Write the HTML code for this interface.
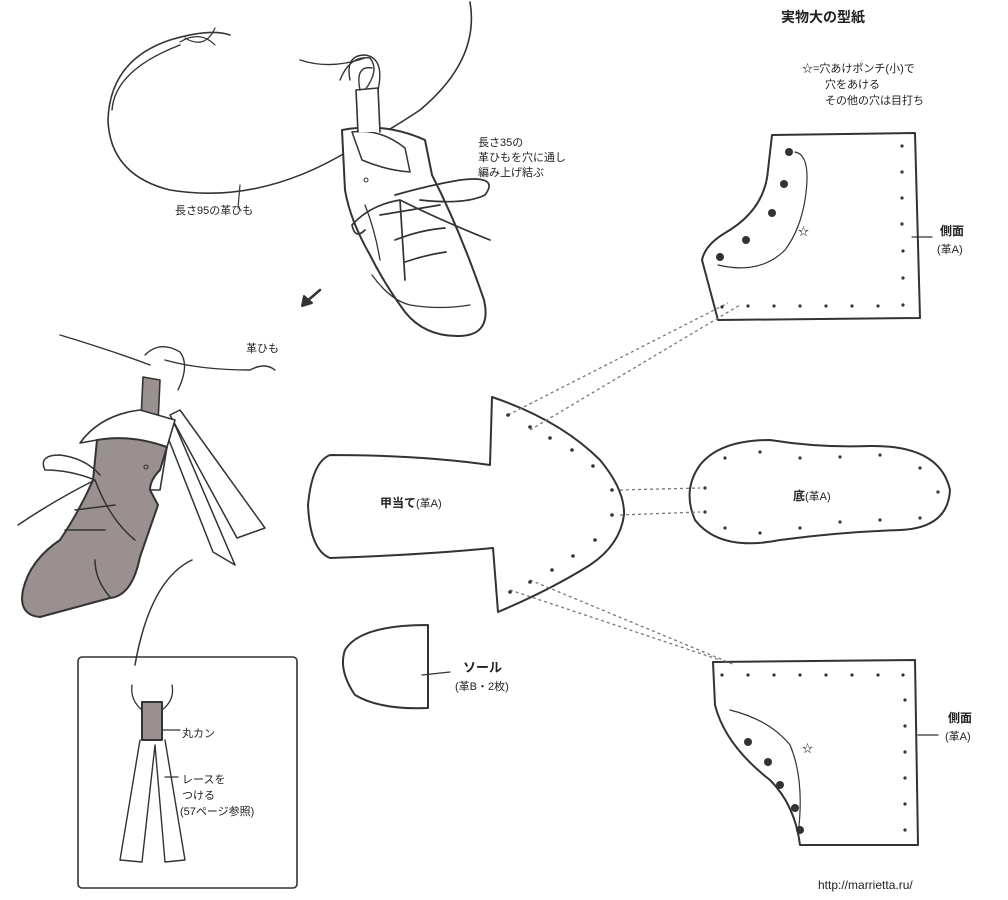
<!DOCTYPE html>
<html><head><meta charset="utf-8"><style>
html,body{margin:0;padding:0;background:#fff}
svg{display:block}
text{font-family:"Liberation Sans","Noto Sans CJK JP",sans-serif;fill:#222}
</style></head><body>
<svg width="1008" height="900" viewBox="0 0 1008 900" xmlns="http://www.w3.org/2000/svg">
<g fill="none" stroke="#333" stroke-width="2" stroke-linecap="round" stroke-linejoin="round">
<!-- big loop -->
<path d="M470,2 Q480,60 420,110 Q390,130 370,140" stroke-width="1.6"/>
<path d="M350,150 Q260,205 170,190 Q110,175 108,120 Q110,60 170,40 Q210,28 230,35" stroke-width="1.6"/>
<path d="M112,110 Q115,70 180,45" stroke-width="1.4"/>
<path d="M240,185 L238,208" stroke-width="1.2"/>
<path d="M180,42 Q200,30 215,45 M185,38 Q205,50 215,28" stroke-width="1.2"/>
<path d="M300,60 Q330,70 365,58 M340,80 Q350,55 370,58 Q380,70 365,90" stroke-width="1.4"/>
<!-- top boot -->
<path d="M342,130 Q385,122 425,140 L432,175 Q460,230 484,300 Q492,335 460,336 Q425,337 405,312 Q385,285 370,255 Q350,220 345,190 Z" fill="#fff"/>
<path d="M352,132 Q380,128 405,148 L410,172 Q385,170 362,160 Z" fill="#fff" stroke-width="1.5"/>
<path d="M358,132 L356,90 L378,88 L380,132" fill="#fff" stroke-width="1.6"/>
<path d="M350,80 Q345,55 365,55 Q385,58 378,90 M360,90 Q355,65 372,68" stroke-width="1.4"/>
<path d="M365,205 Q375,230 380,260 M372,275 Q390,300 410,305 Q440,310 470,305" stroke-width="1.3"/>
<path d="M395,195 Q430,185 460,180 Q500,175 485,195 Q465,205 420,200 M400,200 Q440,220 490,240 M400,200 Q370,205 352,225 Q355,240 365,230 M380,215 L440,205 M395,240 Q420,230 445,228 M405,262 Q425,255 446,252 M400,200 L405,280" stroke-width="1.7"/>
<circle cx="366" cy="180" r="2" stroke-width="1"/>
<!-- arrow -->
<path d="M320,290 L306,302" stroke-width="2.5"/>
<path d="M302,306 L304,296 L312,303 Z" fill="#333"/>
<!-- bottom boot -->
<path d="M60,335 Q110,350 150,365 M165,360 Q200,370 250,370 Q265,362 275,370" stroke-width="1.4"/>
<path d="M145,355 Q160,340 180,352 Q190,365 178,390" stroke-width="1.4"/>
<path d="M143,377 L160,380 L157,445 L140,440 Z" fill="#9a9090" stroke-width="1.6"/>
<path d="M170,415 L180,410 L265,528 L237,538 Z" fill="#fff" stroke-width="1.5"/>
<path d="M165,430 L175,425 L235,565 L213,552 Z" fill="#fff" stroke-width="1.5"/>
<path d="M80,443 Q100,415 140,410 L175,420 L167,447 L160,490 L150,490 Q130,436 97,440 Z" fill="#fff" stroke-width="1.6"/>
<path d="M97,440 Q130,434 167,447 L160,470 Q150,480 150,490 L158,505 L140,557 Q132,596 110,598 L40,617 Q18,615 23,590 Q30,560 60,540 Q80,510 93,480 Z" fill="#9a9090"/>
<path d="M95,480 Q70,470 45,470 Q38,455 60,455 Q85,458 100,475 M95,480 Q55,500 18,525 M95,480 Q110,520 135,540 M75,510 L115,505 M65,530 L105,530 M95,560 Q95,580 110,597" stroke-width="1.5"/>
<circle cx="146" cy="467" r="2" stroke-width="1"/>
<path d="M192,560 Q150,580 135,665" stroke-width="1.5"/>
<!-- inset box -->
<rect x="78" y="657" width="219" height="231" rx="4" stroke-width="1.6"/>
<rect x="142" y="702" width="20" height="38" fill="#9a9090"/>
<path d="M132,685 Q130,700 142,710 M172,685 Q175,700 162,710" stroke-width="1.3"/>
<path d="M140,740 L120,860 L142,862 L155,745 M155,745 L165,862 L185,860 L165,740" stroke-width="1.4"/>
<path d="M163,730 L180,730 M165,777 L178,777" stroke-width="1.2"/>
<!-- mushroom piece -->
<path d="M492,397 Q560,420 600,460 Q625,490 624,515 Q620,545 590,565 Q550,590 498,612 L493,548 Q420,555 330,558 Q310,550 308,505 Q312,462 330,455 Q420,455 490,465 Z"/>
<!-- small sole -->
<path d="M428,625 L428,708 Q380,710 355,695 Q338,670 345,650 Q360,625 428,625 Z"/>
<path d="M422,675 L450,672" stroke-width="1.2"/>
<!-- insole -->
<path d="M700,465 Q720,440 770,440 Q820,448 870,446 Q940,445 950,490 Q948,528 900,530 Q840,532 780,540 Q720,552 695,520 Q682,490 700,465 Z"/>
<!-- upper side -->
<path d="M772,135 L915,133 L920,318 L718,320 L702,260 Q705,245 725,233 Q765,210 768,170 Z"/>
<path d="M795,152 Q812,155 805,200 Q800,230 785,250 Q760,275 718,265" stroke-width="1.2"/>
<path d="M912,237 L932,237" stroke-width="1.2"/>
<!-- lower side -->
<path d="M713,662 L915,660 L918,845 L800,845 Q795,805 770,780 Q725,745 715,705 Z"/>
<path d="M730,710 Q770,720 790,745 Q805,780 798,835" stroke-width="1.2"/>
<path d="M918,735 L938,735" stroke-width="1.2"/>
</g>
<!-- dotted connectors -->
<g stroke="#777" stroke-width="1.3" stroke-dasharray="3,3" fill="none">
<path d="M508,415 L728,303 M530,430 L740,305 M620,490 L700,488 M620,515 L700,512 M510,590 L720,660 M530,580 L735,665"/>
</g>
<!-- dots -->
<g fill="#333">
<circle cx="508" cy="415" r="1.8"/><circle cx="530" cy="427" r="1.8"/><circle cx="550" cy="438" r="1.8"/><circle cx="572" cy="450" r="1.8"/><circle cx="593" cy="466" r="1.8"/><circle cx="612" cy="490" r="1.8"/><circle cx="612" cy="515" r="1.8"/><circle cx="595" cy="540" r="1.8"/><circle cx="573" cy="556" r="1.8"/><circle cx="552" cy="570" r="1.8"/><circle cx="530" cy="582" r="1.8"/><circle cx="510" cy="592" r="1.8"/>
<circle cx="705" cy="488" r="1.6"/><circle cx="705" cy="512" r="1.6"/><circle cx="725" cy="458" r="1.6"/><circle cx="760" cy="452" r="1.6"/><circle cx="800" cy="458" r="1.6"/><circle cx="840" cy="457" r="1.6"/><circle cx="880" cy="455" r="1.6"/><circle cx="920" cy="468" r="1.6"/><circle cx="938" cy="492" r="1.6"/><circle cx="920" cy="518" r="1.6"/><circle cx="880" cy="520" r="1.6"/><circle cx="840" cy="522" r="1.6"/><circle cx="800" cy="528" r="1.6"/><circle cx="760" cy="533" r="1.6"/><circle cx="725" cy="528" r="1.6"/>
<circle cx="789" cy="152" r="4"/><circle cx="784" cy="184" r="4"/><circle cx="772" cy="213" r="4"/><circle cx="746" cy="240" r="4"/><circle cx="720" cy="257" r="4"/>
<circle cx="902" cy="146" r="1.6"/><circle cx="902" cy="172" r="1.6"/><circle cx="902" cy="198" r="1.6"/><circle cx="902" cy="224" r="1.6"/><circle cx="903" cy="251" r="1.6"/><circle cx="903" cy="278" r="1.6"/><circle cx="903" cy="305" r="1.6"/>
<circle cx="722" cy="307" r="1.6"/><circle cx="748" cy="306" r="1.6"/><circle cx="774" cy="306" r="1.6"/><circle cx="800" cy="306" r="1.6"/><circle cx="826" cy="306" r="1.6"/><circle cx="852" cy="306" r="1.6"/><circle cx="878" cy="306" r="1.6"/>
<circle cx="748" cy="742" r="4"/><circle cx="768" cy="762" r="4"/><circle cx="780" cy="785" r="4"/><circle cx="795" cy="808" r="4"/><circle cx="800" cy="830" r="4"/>
<circle cx="722" cy="675" r="1.6"/><circle cx="748" cy="675" r="1.6"/><circle cx="774" cy="675" r="1.6"/><circle cx="800" cy="675" r="1.6"/><circle cx="826" cy="675" r="1.6"/><circle cx="852" cy="675" r="1.6"/><circle cx="878" cy="675" r="1.6"/><circle cx="903" cy="675" r="1.6"/>
<circle cx="905" cy="700" r="1.6"/><circle cx="905" cy="726" r="1.6"/><circle cx="905" cy="752" r="1.6"/><circle cx="905" cy="778" r="1.6"/><circle cx="905" cy="804" r="1.6"/><circle cx="905" cy="830" r="1.6"/>
</g>
<!-- text -->
<text x="781" y="22" font-size="14" font-weight="bold">実物大の型紙</text>
<text x="802" y="72" font-size="11">☆=穴あけポンチ(小)で</text>
<text x="825" y="88" font-size="11">穴をあける</text>
<text x="825" y="104" font-size="11">その他の穴は目打ち</text>
<text x="798" y="235" font-size="11">☆</text>
<text x="802" y="752" font-size="11">☆</text>
<text x="940" y="235" font-size="12" font-weight="bold">側面</text>
<text x="937" y="253" font-size="11">(革A)</text>
<text x="948" y="722" font-size="12" font-weight="bold">側面</text>
<text x="945" y="740" font-size="11">(革A)</text>
<text x="793" y="500" font-size="12" font-weight="bold">底<tspan font-weight="normal" font-size="11">(革A)</tspan></text>
<text x="380" y="507" font-size="12" font-weight="bold">甲当て<tspan font-weight="normal" font-size="11">(革A)</tspan></text>
<text x="463" y="672" font-size="13" font-weight="bold">ソール</text>
<text x="455" y="690" font-size="11">(革B・2枚)</text>
<text x="175" y="214" font-size="11">長さ95の革ひも</text>
<text x="478" y="146" font-size="11">長さ35の</text>
<text x="478" y="161" font-size="11">革ひもを穴に通し</text>
<text x="478" y="176" font-size="11">編み上げ結ぶ</text>
<text x="246" y="352" font-size="11">革ひも</text>
<text x="182" y="737" font-size="11">丸カン</text>
<text x="182" y="783" font-size="11">レースを</text>
<text x="182" y="799" font-size="11">つける</text>
<text x="180" y="815" font-size="11">(57ページ参照)</text>
<text x="818" y="889" font-size="12" font-family="Liberation Mono,monospace">http://marrietta.ru/</text>
</svg>
</body></html>
